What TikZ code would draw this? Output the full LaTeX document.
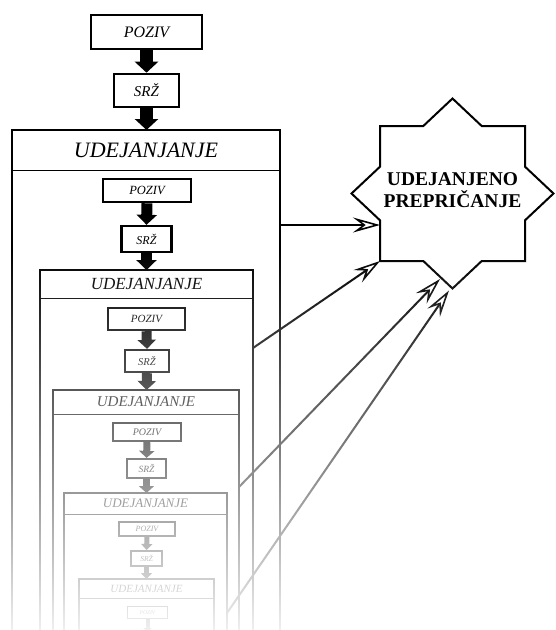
\documentclass[tikz,border=0pt]{standalone}
\usepackage{fontspec}
\setmainfont{Liberation Serif}
\usetikzlibrary{arrows.meta,fadings}
\tikzfading[name=fadedown, top color=transparent!100, bottom color=transparent!6]
\newcommand\fsz[1]{\fontsize{#1}{#1}\selectfont}
\begin{document}
\begin{tikzpicture}[x=1pt,y=-1pt,line join=miter,
  sbox/.style={draw, rectangle, inner sep=0pt, fill=white},
  frame/.style={draw, line width=2.1pt},
  divider/.style={line width=0.8pt},
  flow/.style n args={3}{line width=#1, -{Triangle[width=#2, length=#3]}},
  conn/.style={line width=2pt, -{Stealth[open, length=27pt, width=15pt, inset=10pt, line width=1.6pt]}},
  ttl/.style={inner sep=0pt, font=\itshape\fsz{#1}}
]
\useasboundingbox (0,0) rectangle (555,630);
\fill[white] (0,0) rectangle (555,630);

% ---------- level 0 ----------
\node[sbox, line width=2.8pt, minimum width=111pt, minimum height=34pt, font=\itshape\fsz{16}] (p0) at (146.5,32) {POZIV};
\node[sbox, line width=2.6pt, minimum width=65pt, minimum height=33pt, font=\itshape\fsz{15}] (s0) at (146.5,90.5) {SRŽ};
\draw[frame] (12,640) |- (280,130) -- (280,640);
\coordinate (b0) at (146.5,130);
\draw[divider] (12,170) -- (280,170);
\node[ttl=22] (t0) at (146,150) {UDEJANJANJE};
\draw[flow={13pt}{23pt}{11pt}] (p0.south) -- (s0.north);
\draw[flow={13pt}{23pt}{11pt}] (s0.south) -- (b0);

% ---------- level 1 ----------
\node[sbox, line width=2.6pt, minimum width=88pt, minimum height=23pt, font=\itshape\fsz{12.5}] (p1) at (147,190.5) {POZIV};
\node[sbox, line width=2.4pt, minimum width=50pt, minimum height=26pt, font=\itshape\fsz{12}] (s1) at (146.5,239) {SRŽ};
\draw[frame] (40,640) |- (253,270) -- (253,640);
\coordinate (b1) at (146.5,270);
\draw[divider] (40,298) -- (253,298);
\node[ttl=17] (t1) at (146.5,284) {UDEJANJANJE};
\draw[flow={11pt}{20pt}{10pt}] (p1.south) -- (s1.north);
\draw[flow={11pt}{20pt}{10pt}] (s1.south) -- (b1);

% ---------- level 2 ----------
\node[sbox, line width=2.4pt, minimum width=77pt, minimum height=22pt, font=\itshape\fsz{11}] (p2) at (146.5,319) {POZIV};
\node[sbox, line width=2.3pt, minimum width=44pt, minimum height=22pt, font=\itshape\fsz{10.5}] (s2) at (147,361) {SRŽ};
\draw[frame] (53,640) |- (239,390) -- (239,640);
\coordinate (b2) at (146.5,390);
\draw[divider] (53,414) -- (239,414);
\node[ttl=15] (t2) at (146,402) {UDEJANJANJE};
\draw[flow={10pt}{18pt}{9pt}] (p2.south) -- (s2.north);
\draw[flow={10pt}{18pt}{9pt}] (s2.south) -- (b2);

% ---------- level 3 ----------
\node[sbox, line width=2.3pt, minimum width=68pt, minimum height=18pt, font=\itshape\fsz{10}] (p3) at (147,432) {POZIV};
\node[sbox, line width=2.2pt, minimum width=39pt, minimum height=19pt, font=\itshape\fsz{9.5}] (s3) at (146.5,468.5) {SRŽ};
\draw[frame] (64,640) |- (227,493) -- (227,640);
\coordinate (b3) at (146.5,493);
\draw[divider] (64,514) -- (227,514);
\node[ttl=13] (t3) at (145.5,503.5) {UDEJANJANJE};
\draw[flow={7pt}{15pt}{7pt}] (p3.south) -- (s3.north);
\draw[flow={7pt}{15pt}{7pt}] (s3.south) -- (b3);

% ---------- level 4 ----------
\node[sbox, line width=2pt, minimum width=56pt, minimum height=14pt, font=\itshape\fsz{8}] (p4) at (147,529) {POZIV};
\node[sbox, line width=2pt, minimum width=31pt, minimum height=15pt, font=\itshape\fsz{7.5}] (s4) at (146.5,558.5) {SRŽ};
\draw[frame] (79,640) |- (214,579) -- (214,640);
\coordinate (b4) at (146.5,579);
\draw[divider] (79,598) -- (214,598);
\node[ttl=11] (t4) at (146.5,588.5) {UDEJANJANJE};
\draw[flow={5pt}{11pt}{6pt}] (p4.south) -- (s4.north);
\draw[flow={5pt}{11pt}{6pt}] (s4.south) -- (b4);

% ---------- level 5 ----------
\node[sbox, line width=1.8pt, minimum width=40pt, minimum height=12pt, font=\itshape\fsz{5.5}] (p5) at (147.5,612.5) {POZIV};
\coordinate (b5) at (147.5,632);
\draw[flow={4pt}{8pt}{4pt}] (p5.south) -- (b5);

% ---------- star ----------
\draw[line width=2pt, fill=white]
  (452.5,98.5) -- (481.7,126) -- (525,126) -- (525,166.7) -- (553.5,193.5)
  -- (525,220.3) -- (525,261) -- (481.7,261) -- (452.5,288.5) -- (423.3,261)
  -- (380,261) -- (380,220.3) -- (351.5,193.5) -- (380,166.7) -- (380,126)
  -- (423.3,126) -- cycle;
\node[align=center, inner sep=0pt, font=\bfseries\fontsize{19.5}{22}\selectfont] (star) at (452.5,190) {UDEJANJENO\\PREPRIČANJE};
\coordinate (k1) at (380,225);
\coordinate (k2) at (380,261);
\coordinate (k3) at (440,279);
\coordinate (k4) at (449,290.5);

% ---------- connectors ----------
\coordinate (r0) at (280,225);
\coordinate (r1) at (253,348);
\coordinate (r2) at (239,487);
\coordinate (r3) at (227,613);
\draw[conn] (r0) -- (k1);
\draw[conn] (r1) -- (k2);
\draw[conn] (r2) -- (k3);
\draw[conn] (r3) -- (k4);

% ---------- fade toward the bottom ----------
\fill[white, path fading=fadedown] (0,250) rectangle (555,630);
\end{tikzpicture}
\end{document}
